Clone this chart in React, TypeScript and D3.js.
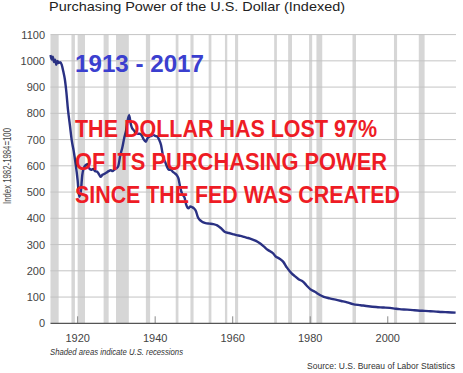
import React from "react";
import * as d3 from "d3";

const years: number[] = [
  1913.0, 1913.3, 1913.6, 1913.9, 1914.2, 1914.5, 1914.8, 1915.1, 1915.5, 1915.9,
  1916.3, 1916.7, 1917.1, 1917.5, 1918.0, 1918.5, 1919.0, 1919.5, 1920.0, 1920.4,
  1920.8, 1921.2, 1921.6, 1922.0, 1922.6, 1923.0, 1923.5, 1924.0, 1924.5, 1925.0,
  1925.5, 1926.0, 1926.4, 1927.0, 1927.5, 1928.0, 1928.6, 1929.0, 1929.5, 1930.0,
  1930.5, 1931.0, 1931.5, 1932.0, 1932.5, 1933.0, 1933.3, 1933.7, 1934.0, 1934.5,
  1935.0, 1935.5, 1936.0, 1936.5, 1937.0, 1937.6, 1938.0, 1938.6, 1939.0, 1939.5,
  1940.0, 1940.6, 1941.0, 1941.5, 1942.0, 1942.5, 1943.0, 1943.5, 1944.0, 1944.5,
  1945.0, 1945.5, 1946.0, 1946.5, 1947.0, 1947.6, 1948.0, 1948.6, 1949.0, 1949.6,
  1950.0, 1950.5, 1951.0, 1951.5, 1952.0, 1953.0, 1954.0, 1955.0, 1956.0, 1957.0,
  1958.0, 1959.0, 1960.0, 1961.0, 1962.0, 1963.0, 1964.0, 1965.0, 1966.0, 1967.0,
  1968.0, 1969.0, 1970.4, 1971.0, 1972.0, 1973.0, 1974.0, 1975.2, 1976.0, 1977.0,
  1978.2, 1979.0, 1980.0, 1981.2, 1982.5, 1983.5, 1985.0, 1986.8, 1988.0, 1989.5,
  1991.0, 1993.0, 1995.0, 1997.0, 1999.0, 2001.4, 2003.0, 2005.0, 2006.5, 2008.3,
  2009.5, 2011.0, 2012.5, 2014.0, 2015.5, 2016.5, 2017.5,
];

const values: number[] = [
  1022, 1005, 1016, 995, 1004, 985, 1000, 992, 995, 985,
  960, 930, 880, 815, 755, 695, 655, 605, 545, 482,
  500, 565, 592, 602, 606, 590, 585, 588, 580, 578,
  568, 558, 566, 570, 575, 580, 583, 580, 586, 590,
  600, 640, 668, 705, 735, 780, 793, 760, 745, 735,
  725, 722, 722, 716, 702, 692, 705, 712, 714, 718,
  714, 711, 700, 680, 640, 618, 598, 585, 585, 578,
  572, 566, 552, 515, 492, 478, 452, 438, 445, 442,
  438, 428, 405, 394, 388, 382, 380, 378, 373, 362,
  348, 344, 340, 336, 333, 329, 325, 320, 314, 305,
  293, 280, 267, 256, 247, 235, 212, 190, 180, 168,
  158, 145, 130, 120, 108, 101, 95, 89, 85, 80,
  73, 69, 65, 62, 60, 57, 54, 52, 50, 48,
  47.5, 46, 44.5, 43, 42, 41.2, 40.5,
];

const recessionStart: number[] = [
  1913.0, 1918.4, 1920.0, 1926.7, 1929.9, 1937.6, 1945.3, 1949.1, 1953.8, 1958.0,
  1960.6, 1970.7, 1974.3, 1979.7, 1981.6, 1990.9, 2001.6, 2008.0,
];
const recessionEnd: number[] = [
  1915.1, 1919.3, 1921.9, 1928.0, 1933.2, 1938.7, 1946.0, 1949.9, 1954.5, 1958.6,
  1961.4, 1971.4, 1975.3, 1980.5, 1983.1, 1991.8, 2002.4, 2009.5,
];

const yTicks: number[] = [0, 100, 200, 300, 400, 500, 600, 700, 800, 900, 1000, 1100];
const xTicks: number[] = [1920, 1940, 1960, 1980, 2000];

const titleText = "Purchasing Power of the U.S. Dollar (Indexed)";
const yLabel = "Index 1982-1984=100";
const periodText = "1913 - 2017";
const messageLines: string[] = [
  "THE DOLLAR HAS LOST 97%",
  "OF ITS PURCHASING POWER",
  "SINCE THE FED WAS CREATED",
];
const messageWidths: number[] = [302, 312, 325];
const noteText = "Shaded areas indicate U.S. recessions";
const sourceText = "Source: U.S. Bureau of Labor Statistics";

export default function App() {
  const W = 463;
  const H = 373;
  const left = 50.5;
  const right = 456;
  const top = 34.6;
  const bottom = 323.3;

  const x = d3.scaleLinear().domain([1913, 2017.6]).range([left, right]);
  const y = d3.scaleLinear().domain([0, 1100]).range([bottom, top]);

  const pts: [number, number][] = years.map((yr, i) => [yr, values[i]]);
  const line = d3
    .line<[number, number]>()
    .x((d) => x(d[0]))
    .y((d) => y(d[1]))
    .curve(d3.curveMonotoneX);

  const font = "'Liberation Sans', Arial, sans-serif";

  return (
    <svg
      width={W}
      height={H}
      style={{ position: "absolute", left: 0, top: 0, background: "#fff" }}
      fontFamily={font}
    >
      <rect x={0} y={0} width={W} height={H} fill="#fff" />
      {recessionStart.map((s, i) => (
        <rect
          key={"r" + i}
          x={x(s)}
          y={y(1100)}
          width={x(recessionEnd[i]) - x(s)}
          height={y(0) - y(1100)}
          fill="#d6d6d6"
        />
      ))}
      {yTicks
        .filter((t) => t > 0)
        .map((t) => (
          <line
            key={"g" + t}
            x1={left}
            x2={right}
            y1={y(t)}
            y2={y(t)}
            stroke="#c4c4c4"
            strokeWidth={1}
          />
        ))}
      {xTicks.map((t) => (
        <line
          key={"xt" + t}
          x1={x(t)}
          x2={x(t)}
          y1={y(0)}
          y2={y(0) - 7}
          stroke="#8a8a8a"
          strokeWidth={1}
        />
      ))}
      <line x1={left} x2={right} y1={y(0)} y2={y(0)} stroke="#555" strokeWidth={1.2} />
      <path d={line(pts) || ""} fill="none" stroke="#2a3183" strokeWidth={2.4} strokeLinejoin="round" />

      {yTicks.map((t) => (
        <text
          key={"yl" + t}
          x={45}
          y={y(t)}
          dy="0.36em"
          textAnchor="end"
          fontSize={11}
          fill="#444"
        >
          {t}
        </text>
      ))}
      {xTicks.map((t) => (
        <text key={"xl" + t} x={x(t)} y={342} textAnchor="middle" fontSize={11} fill="#444">
          {t}
        </text>
      ))}

      <text x={49} y={10.5} fontSize={13} fill="#222" textLength={296} lengthAdjust="spacingAndGlyphs">
        {titleText}
      </text>
      <text
        transform="translate(10.5,166) rotate(-90)"
        textAnchor="middle"
        fontSize={11}
        fill="#444"
        textLength={76}
        lengthAdjust="spacingAndGlyphs"
      >
        {yLabel}
      </text>

      <text
        x={75}
        y={72}
        fontSize={24}
        fontWeight="bold"
        fill="#3b3fcf"
        textLength={129}
        lengthAdjust="spacingAndGlyphs"
      >
        {periodText}
      </text>
      {messageLines.map((l, i) => (
        <text
          key={"m" + i}
          x={75}
          y={136.5 + i * 33.3}
          fontSize={23}
          fontWeight="bold"
          fill="#ee1c25"
          textLength={messageWidths[i]}
          lengthAdjust="spacingAndGlyphs"
        >
          {l}
        </text>
      ))}

      <text x={50} y={355} fontSize={9.5} fontStyle="italic" fill="#333" textLength={133} lengthAdjust="spacingAndGlyphs">
        {noteText}
      </text>
      <text x={455} y={369} fontSize={8.5} textAnchor="end" fill="#333">
        {sourceText}
      </text>
    </svg>
  );
}
